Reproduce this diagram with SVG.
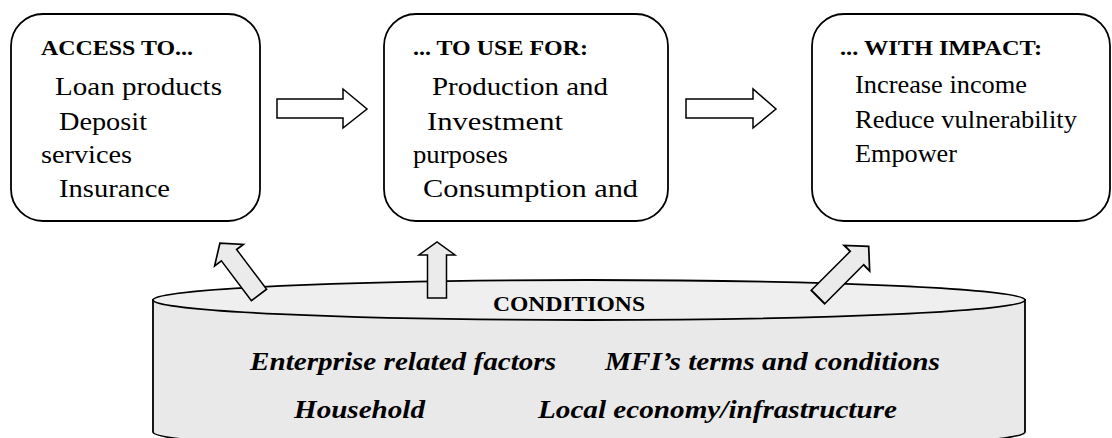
<svg xmlns="http://www.w3.org/2000/svg" width="1112" height="438" viewBox="0 0 1112 438">
  <style>
    .box { fill: #ffffff; stroke: #000000; stroke-width: 1.8; }
    .hdr { font-family: 'Liberation Serif', serif; font-weight: bold; font-size: 22px; fill: #000; }
    .txt { font-family: 'Liberation Serif', serif; font-size: 25px; fill: #000; }
    .cond { font-family: 'Liberation Serif', serif; font-weight: bold; font-style: italic; font-size: 25px; fill: #000; }
    .rarrow { fill: #ffffff; stroke: #000000; stroke-width: 1.5; stroke-linejoin: miter; }
    .uarrow { fill: #ebebeb; stroke: #000000; stroke-width: 1.5; stroke-linejoin: miter; }
    .cyl { fill: #e9e9e9; stroke: #000000; stroke-width: 1.8; }
    .cyltop { fill: #efefef; stroke: #000000; stroke-width: 1.8; }
  </style>
  <defs>
    <path id="uparrow" d="M -9.5 0 L -9.5 -43 L -18 -43 L 0 -56 L 18 -43 L 9.5 -43 L 9.5 0 Z"/>
  </defs>

  <g id="node-access">
    <rect class="box" x="11" y="14" width="249" height="207" rx="32" ry="32"/>
    <text class="hdr" x="41" y="55" textLength="152" lengthAdjust="spacingAndGlyphs">ACCESS TO...</text>
    <text class="txt" x="55" y="95" textLength="167" lengthAdjust="spacingAndGlyphs">Loan products</text>
    <text class="txt" x="59" y="130" textLength="88" lengthAdjust="spacingAndGlyphs">Deposit</text>
    <text class="txt" x="41" y="163" textLength="91" lengthAdjust="spacingAndGlyphs">services</text>
    <text class="txt" x="59" y="197" textLength="111" lengthAdjust="spacingAndGlyphs">Insurance</text>
  </g>

  <g id="node-use">
    <rect class="box" x="384" y="14" width="284" height="207" rx="32" ry="32"/>
    <text class="hdr" x="413" y="55" textLength="175" lengthAdjust="spacingAndGlyphs">... TO USE FOR:</text>
    <text class="txt" x="432" y="95" textLength="176" lengthAdjust="spacingAndGlyphs">Production and</text>
    <text class="txt" x="427" y="130" textLength="136" lengthAdjust="spacingAndGlyphs">Investment</text>
    <text class="txt" x="413" y="163" textLength="95" lengthAdjust="spacingAndGlyphs">purposes</text>
    <text class="txt" x="423" y="197" textLength="215" lengthAdjust="spacingAndGlyphs">Consumption and</text>
  </g>

  <g id="node-impact">
    <rect class="box" x="812" y="14" width="298" height="207" rx="32" ry="32"/>
    <text class="hdr" x="840" y="55" textLength="202" lengthAdjust="spacingAndGlyphs">... WITH IMPACT:</text>
    <text class="txt" x="855" y="93" textLength="172" lengthAdjust="spacingAndGlyphs">Increase income</text>
    <text class="txt" x="855" y="128" textLength="222" lengthAdjust="spacingAndGlyphs">Reduce vulnerability</text>
    <text class="txt" x="855" y="162" textLength="102" lengthAdjust="spacingAndGlyphs">Empower</text>
  </g>

  <g id="node-conditions">
    <path class="cyl" d="M 153 300 L 153 432 A 436 20 0 0 0 1025 432 L 1025 300 Z"/>
    <ellipse class="cyltop" cx="589" cy="300" rx="436" ry="20"/>
    <text class="hdr" x="493" y="311" textLength="152" lengthAdjust="spacingAndGlyphs">CONDITIONS</text>
    <text class="cond" x="250" y="370" textLength="306" lengthAdjust="spacingAndGlyphs">Enterprise related factors</text>
    <text class="cond" x="605" y="370" textLength="335" lengthAdjust="spacingAndGlyphs">MFI’s terms and conditions</text>
    <text class="cond" x="294" y="418" textLength="131" lengthAdjust="spacingAndGlyphs">Household</text>
    <text class="cond" x="538" y="418" textLength="359" lengthAdjust="spacingAndGlyphs">Local economy/infrastructure</text>
  </g>

  <g id="connectors">
    <path class="rarrow" d="M 277 99 L 343 99 L 343 89 L 367 109 L 343 128 L 343 118 L 277 118 Z"/>
    <path class="rarrow" d="M 686 99 L 753 99 L 753 89 L 776 109 L 753 128 L 753 118 L 686 118 Z"/>
    <g transform="translate(259 295) rotate(-37) scale(1 1.16)"><use href="#uparrow" class="uarrow"/></g>
    <g transform="translate(437 298)"><use href="#uparrow" class="uarrow"/></g>
    <g transform="translate(818 297) rotate(45) scale(1 1.28)"><use href="#uparrow" class="uarrow"/></g>
  </g>
</svg>
